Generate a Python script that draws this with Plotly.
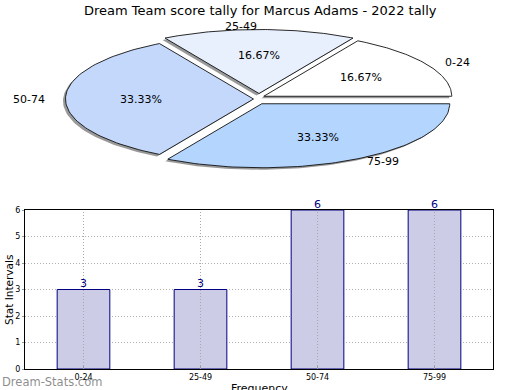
import numpy as np
import plotly.graph_objects as go

categories = ["0-24", "25-49", "50-74", "75-99"]
counts = [3, 3, 6, 6]
pie_colors = ["#ffffff", "#e8f0fe", "#c4d8fc", "#b3d5fe"]
title = "Dream Team score tally for Marcus Adams - 2022 tally"
y_ticks = [0, 1, 2, 3, 4, 5, 6]

W, H = 520, 390
# pie geometry (pixel space of the overlay axes)
cx, cy, rx, ry = 259, 99, 188, 64
explode_px = 5.5
shadow_dx, shadow_dy = -2.5, 2.0
font = "DejaVu Sans"
bar_dom_x = [25 / W, 493 / W]

fig = go.Figure()

total = float(sum(counts))
fracs = [c / total for c in counts]
starts = np.cumsum([0] + fracs[:-1]) * 2 * np.pi


def wedge(a0, a1, ox, oy):
    t = np.linspace(a0, a1, 80)
    xs = np.concatenate([[cx + ox], cx + ox + rx * np.cos(t), [cx + ox]])
    ys = np.concatenate([[cy + oy], cy + oy - ry * np.sin(t), [cy + oy]])
    return xs, ys


geo = []
for i, f in enumerate(fracs):
    a0 = starts[i]
    a1 = a0 + f * 2 * np.pi
    mid = (a0 + a1) / 2
    ox = explode_px * np.cos(mid)
    oy = -explode_px * np.sin(mid)
    geo.append((a0, a1, mid, ox, oy))

# shadows
for a0, a1, mid, ox, oy in geo:
    xs, ys = wedge(a0, a1, ox + shadow_dx, oy + shadow_dy)
    fig.add_trace(go.Scatter(x=xs, y=ys, xaxis="x2", yaxis="y2", mode="lines",
                             fill="toself", fillcolor="rgba(110,110,110,0.7)",
                             line=dict(width=0, color="rgba(0,0,0,0)"),
                             hoverinfo="skip", showlegend=False))
# slices
for (a0, a1, mid, ox, oy), col in zip(geo, pie_colors):
    xs, ys = wedge(a0, a1, ox, oy)
    fig.add_trace(go.Scatter(x=xs, y=ys, xaxis="x2", yaxis="y2", mode="lines",
                             fill="toself", fillcolor=col,
                             line=dict(width=0.9, color="#111111"),
                             hoverinfo="skip", showlegend=False))

annotations = []
for (a0, a1, mid, ox, oy), cat, f in zip(geo, categories, fracs):
    px = cx + ox + 0.6 * rx * np.cos(mid)
    py = cy + oy - 0.6 * ry * np.sin(mid)
    annotations.append(dict(x=px, y=py, xref="x2", yref="y2", text=f"{f*100:.2f}%",
                            showarrow=False, font=dict(family=font, size=11, color="#000"),
                            xanchor="center", yanchor="middle"))
    lx = cx + ox + 1.1 * rx * np.cos(mid)
    ly = cy + oy - 1.05 * ry * np.sin(mid)
    xa = "left" if np.cos(mid) > 1e-9 else "right"
    annotations.append(dict(x=lx, y=ly, xref="x2", yref="y2", text=cat,
                            showarrow=False, font=dict(family=font, size=11, color="#000"),
                            xanchor=xa, yanchor="middle"))

# bar chart
fig.add_trace(go.Bar(x=categories, y=counts, width=0.45,
                     marker=dict(color="#ccccE6", line=dict(color="#000080", width=1)),
                     cliponaxis=False, hoverinfo="skip", showlegend=False))
for c, v in zip(categories, counts):
    annotations.append(dict(x=c, y=v, xref="x", yref="y", text=str(v), showarrow=False,
                            yanchor="bottom", yshift=-2.5,
                            font=dict(family=font, size=11, color="#000080")))

# vertical dotted grid lines drawn above the bars (as in the reference)
shapes = []
for c in categories:
    shapes.append(dict(type="line", xref="x", yref="y domain", x0=c, x1=c, y0=0, y1=1,
                       line=dict(color="#a8a8a8", width=1, dash="1px,2px"), layer="above"))

annotations.append(dict(x=0.5, y=1.0, xref="paper", yref="paper", text=title,
                        showarrow=False, yanchor="top", xanchor="center", yshift=-1,
                        font=dict(family=font, size=13, color="#000")))
annotations.append(dict(x=0, y=0, xref="paper", yref="paper", text="Dream-Stats.com",
                        showarrow=False, xanchor="left", yanchor="bottom", yshift=-1,
                        font=dict(family=font, size=11.5, color="rgba(120,120,120,0.85)")))
annotations.append(dict(x=(bar_dom_x[0] + bar_dom_x[1]) / 2, y=0, xref="paper", yref="paper",
                        text="Frequency", showarrow=False, xanchor="center", yanchor="middle",
                        yshift=2, font=dict(family=font, size=11, color="#000")))
annotations.append(dict(x=9 / W, y=(H - 290) / H, xref="paper", yref="paper",
                        text="Stat Intervals", showarrow=False, textangle=-90,
                        xanchor="center", yanchor="middle",
                        font=dict(family=font, size=10.5, color="#000")))

fig.update_layout(
    template="none",
    width=W, height=H, margin=dict(l=0, r=0, t=0, b=0, autoexpand=False),
    paper_bgcolor="white", plot_bgcolor="rgba(0,0,0,0)",
    annotations=annotations, shapes=shapes,
    xaxis=dict(domain=bar_dom_x, anchor="y", range=[-0.5, 3.5], automargin=False,
               showline=True, linecolor="black", linewidth=1, mirror=True,
               showgrid=False,
               ticks="inside", ticklen=3, tickcolor="#999",
               tickfont=dict(family=font, size=8, color="#000"),
               zeroline=False),
    yaxis=dict(domain=[(H - 369) / H, (H - 210) / H], anchor="x", range=[0, 6], automargin=False,
               tickvals=y_ticks, showline=True, linecolor="black", linewidth=1, mirror=True,
               showgrid=True, gridcolor="#b0b0b0", griddash="1px,2px", gridwidth=1,
               ticks="outside", ticklen=2, tickcolor="#999",
               tickfont=dict(family=font, size=8, color="#000"),
               zeroline=False),
    xaxis2=dict(domain=[0, 1], anchor="y2", range=[0, W], visible=False, fixedrange=True),
    yaxis2=dict(domain=[0, 1], anchor="x2", range=[H, 0], visible=False, fixedrange=True),
)

fig.write_html("out.html", config={"displayModeBar": False})
with open("out.html", "r", encoding="utf-8") as fh:
    html = fh.read()
html = html.replace("<body>", '<body style="margin:0;padding:0;overflow:hidden">', 1)
with open("out.html", "w", encoding="utf-8") as fh:
    fh.write(html)
